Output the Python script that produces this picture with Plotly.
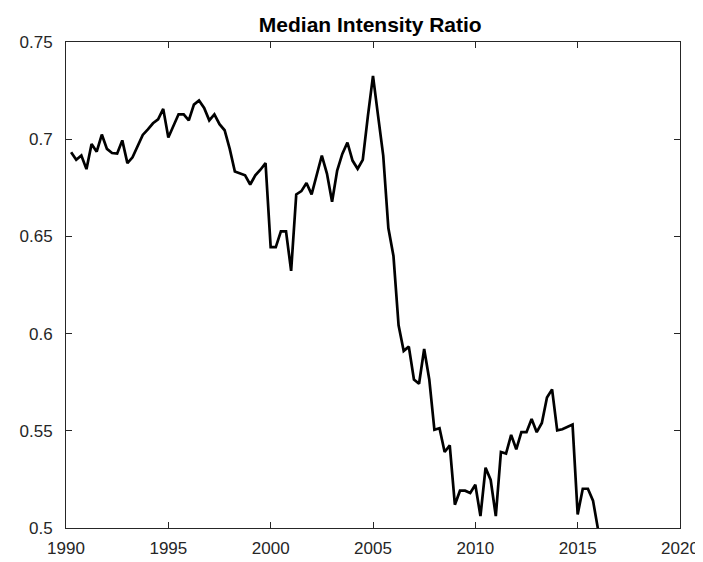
import plotly.graph_objects as go

# Quarterly observations starting 1990.25
start_year = 1990.25
step = 0.25
ratio = [
    0.6933, 0.6894, 0.6916, 0.6846, 0.6975, 0.6936, 0.7024, 0.6950, 0.6929, 0.6926,
    0.6994, 0.6877, 0.6907, 0.6966, 0.7022, 0.7051, 0.7082, 0.7102, 0.7156, 0.7009,
    0.7068, 0.7128, 0.7128, 0.7097, 0.7178, 0.7199, 0.7161, 0.7097, 0.7128, 0.7077,
    0.7046, 0.6950, 0.6834, 0.6823, 0.6814, 0.6767, 0.6814, 0.6843, 0.6877, 0.6445,
    0.6445, 0.6526, 0.6526, 0.6323, 0.6716, 0.6733, 0.6775, 0.6716, 0.6814, 0.6916,
    0.6823, 0.6678, 0.6839, 0.6924, 0.6983, 0.6890, 0.6848, 0.6894, 0.7119, 0.7326,
    0.7119, 0.6916, 0.6543, 0.6399, 0.6043, 0.5911, 0.5933, 0.5764, 0.5742, 0.5921,
    0.5764, 0.5505, 0.5513, 0.5391, 0.5425, 0.5120, 0.5192, 0.5192, 0.5180, 0.5222,
    0.5061, 0.5310, 0.5247, 0.5061, 0.5391, 0.5383, 0.5479, 0.5405, 0.5493, 0.5493,
    0.5561, 0.5493, 0.5540, 0.5671, 0.5713, 0.5502, 0.5508, 0.5518, 0.5532, 0.5070,
    0.5202, 0.5202, 0.5141, 0.4990,
]
years = [start_year + step * i for i in range(len(ratio))]

x_ticks = [1990, 1995, 2000, 2005, 2010, 2015, 2020]
x_ticktext = ["1990", "1995", "2000", "2005", "2010", "2015", "2020"]
y_ticks = [0.5, 0.55, 0.6, 0.65, 0.7, 0.75]
y_ticktext = ["0.5", "0.55", "0.6", "0.65", "0.7", "0.75"]

title_text = "Median Intensity Ratio"

axis_color = "#262626"
font_family = "Liberation Sans, Arial, sans-serif"

fig = go.Figure()
fig.add_trace(go.Scatter(
    x=years, y=ratio, mode="lines",
    line=dict(color="black", width=2.7),
    showlegend=False, hoverinfo="skip",
))

axis_common = dict(
    showgrid=False, zeroline=False,
    showline=True, linecolor=axis_color, linewidth=1,
    mirror="ticks", ticks="inside", ticklen=6, tickwidth=1, tickcolor=axis_color,
    tickfont=dict(family=font_family, size=17, color=axis_color),
)

fig.update_layout(
    width=703, height=562,
    margin=dict(l=57, r=23, t=34, b=35, pad=0),
    paper_bgcolor="white", plot_bgcolor="white",
    title=dict(
        text="<b>" + title_text + "</b>",
        font=dict(family=font_family, size=21, color="black"),
        x=0.4955, xref="paper", xanchor="center",
        y=1 - 17 / 562, yref="container", yanchor="middle",
    ),
    xaxis=dict(range=[1990, 2020], tickvals=x_ticks, ticktext=x_ticktext,
               ticklabelstandoff=5, **axis_common),
    yaxis=dict(range=[0.5, 0.75], tickvals=y_ticks, ticktext=y_ticktext,
               ticklabelstandoff=9, **axis_common),
)

fig.write_html("out.html")
